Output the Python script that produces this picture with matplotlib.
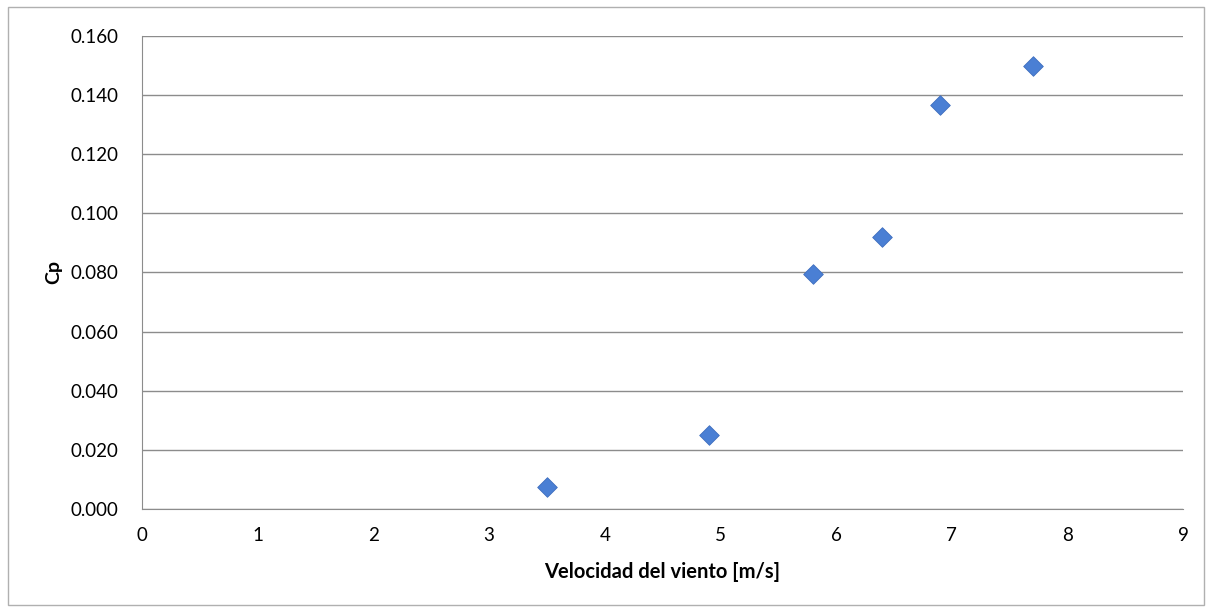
import matplotlib.pyplot as plt
from matplotlib.patches import Rectangle
import numpy as np

# Wind speed [m/s] and power coefficient Cp
velocidad = [3.5, 4.9, 5.8, 6.4, 6.9, 7.7]
cp = [0.0075, 0.025, 0.0795, 0.092, 0.1367, 0.150]

x_ticks = np.arange(0, 10, 1)
y_ticks = np.arange(0, 0.161, 0.02)

plt.rcParams['font.family'] = ['Lato', 'DejaVu Sans']

fig = plt.figure(figsize=(12.12, 6.10), dpi=100)
ax = fig.add_axes([0.1172, 0.1656, 0.8589, 0.7754])

# Outer chart frame
fig.patches.append(Rectangle((0.007, 0.008), 0.986, 0.98, transform=fig.transFigure,
                             fill=False, edgecolor='#b0b0b0', linewidth=1.0))

ax.scatter(velocidad, cp, marker='D', s=100, color='#4a7fd4',
           edgecolors='#3f6fbf', linewidths=0.6, zorder=3)

ax.set_xlim(0, 9)
ax.set_ylim(0, 0.16)
ax.set_xticks(x_ticks)
ax.set_yticks(y_ticks)
ax.set_yticklabels([f'{v:.3f}' for v in y_ticks])

ax.grid(True, axis='y', color='#8c8c8c', linewidth=1.0)
ax.set_axisbelow(True)
for side in ['top', 'right']:
    ax.spines[side].set_visible(False)
ax.spines['left'].set_color('#8c8c8c')
ax.spines['bottom'].set_color('#8c8c8c')
ax.tick_params(axis='both', length=0, labelsize=13.5)
ax.tick_params(axis='y', pad=17)
ax.tick_params(axis='x', pad=13)

ax.set_xlabel('Velocidad del viento [m/s]', fontsize=14.5, fontweight='bold', labelpad=13)
ax.set_ylabel('Cp', fontsize=14, fontweight='bold', labelpad=6)

plt.savefig('out.png', dpi=100)
